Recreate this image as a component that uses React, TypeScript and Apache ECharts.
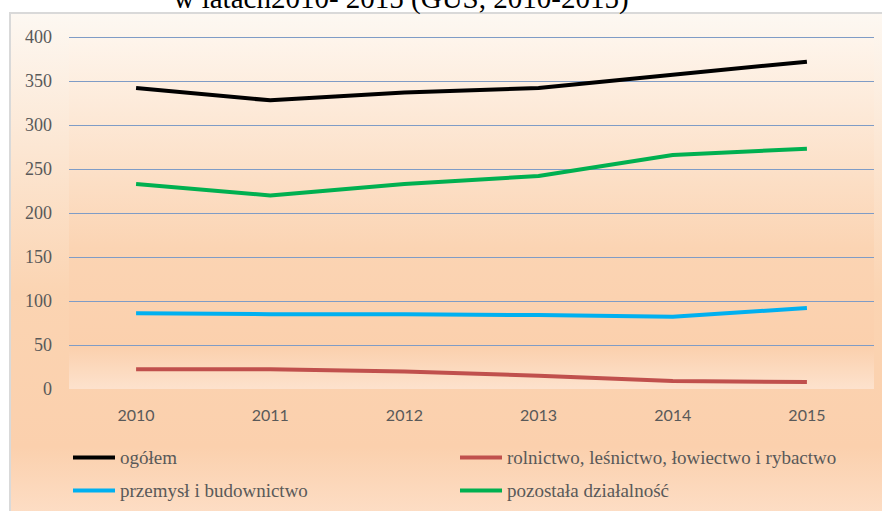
import React, { useEffect, useRef } from "react";
import * as echarts from "echarts";

const categories = ["2010", "2011", "2012", "2013", "2014", "2015"];
const ogolem = [342, 328, 337, 342, 357, 372];
const rolnictwo = [22.5, 22.5, 20, 15, 9, 8];
const przemysl = [86, 85, 85, 84, 82, 92];
const pozostala = [233, 220, 233, 242, 266, 273];
const seriesNames = [
  "ogółem",
  "rolnictwo, leśnictwo, łowiectwo i rybactwo",
  "przemysł i budownictwo",
  "pozostała działalność",
];
const colors = ["#000000", "#c0504d", "#00b0f0", "#00b050"];
const titleText = "w latach2010- 2015 (GUS, 2010-2015)";

export default function App() {
  const ref = useRef<HTMLDivElement>(null);
  useEffect(() => {
    document.body.style.margin = "0";
    const chart = echarts.init(ref.current!, undefined, { renderer: "svg" });
    const values = [ogolem, rolnictwo, przemysl, pozostala];
    const serif = "Liberation Serif";
    chart.setOption({
      animation: false,
      graphic: [
        {
          type: "rect",
          z: -10,
          silent: true,
          shape: { x: 10, y: 13, width: 880, height: 510 },
          style: {
            fill: new echarts.graphic.LinearGradient(0, 0, 0, 1, [
              { offset: 0, color: "#fdf8f2" },
              { offset: 0.55, color: "#fbd4b2" },
              { offset: 0.85, color: "#fbd0ad" },
              { offset: 1, color: "#fddfc8" },
            ]),
            stroke: "#d9d9d9",
            lineWidth: 2,
          },
        },
        {
          type: "text",
          x: 401,
          y: -2,
          silent: true,
          style: {
            text: titleText,
            fontFamily: serif,
            fontSize: 29,
            fill: "#000000",
            align: "center",
            verticalAlign: "middle",
          },
        },
      ],
      legend: [
        {
          orient: "vertical",
          left: 73,
          top: 448,
          data: [seriesNames[0], seriesNames[2]],
          icon: "rect",
          itemWidth: 42,
          itemHeight: 4,
          itemGap: 14,
          padding: 0,
          textStyle: { fontFamily: serif, fontSize: 19, lineHeight: 19, color: "#595959" },
        },
        {
          orient: "vertical",
          left: 460,
          top: 448,
          data: [seriesNames[1], seriesNames[3]],
          icon: "rect",
          itemWidth: 42,
          itemHeight: 4,
          itemGap: 14,
          padding: 0,
          textStyle: { fontFamily: serif, fontSize: 19, lineHeight: 19, color: "#595959" },
        },
      ],
      grid: {
        left: 69,
        right: 8,
        top: 37,
        bottom: 122,
        show: true,
        borderWidth: 0,
        backgroundColor: new echarts.graphic.LinearGradient(0, 0, 0, 1, [
          { offset: 0, color: "#fef5ec" },
          { offset: 0.6, color: "#fbd4b3" },
          { offset: 0.88, color: "#fbd0ad" },
          { offset: 1, color: "#fde2cd" },
        ]),
      },
      xAxis: {
        type: "category",
        data: categories,
        boundaryGap: true,
        axisLine: { show: false },
        axisTick: { show: false },
        axisLabel: {
          fontFamily: "Lato",
          fontSize: 16,
          color: "#595959",
          margin: 17,
        },
      },
      yAxis: {
        type: "value",
        min: 0,
        max: 400,
        interval: 50,
        axisLine: { show: false },
        axisTick: { show: false },
        axisLabel: {
          fontFamily: serif,
          fontSize: 18,
          color: "#595959",
          margin: 17,
        },
        splitLine: {
          show: true,
          showMinLine: false,
          lineStyle: { color: "#7f9cc6", width: 1 },
        },
      },
      series: seriesNames.map((name, i) => ({
        name,
        type: "line",
        data: values[i],
        symbol: "none",
        lineStyle: { color: colors[i], width: 4 },
        itemStyle: { color: colors[i] },
      })),
    });
    return () => chart.dispose();
  }, []);
  return <div ref={ref} style={{ width: 882, height: 511 }} />;
}
